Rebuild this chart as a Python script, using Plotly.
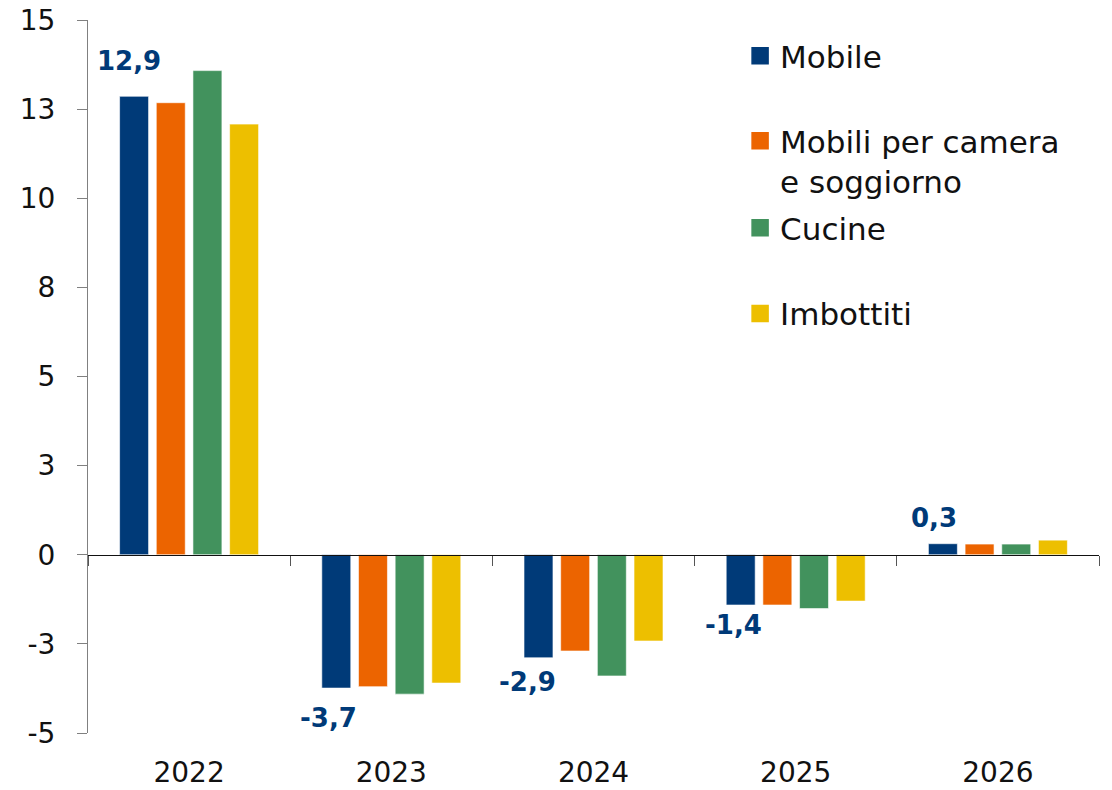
import plotly.graph_objects as go

# ---------------- data ----------------
years = ["2022", "2023", "2024", "2025", "2026"]
series_names = ["Mobile", "Mobili per camera<br>e soggiorno", "Cucine", "Imbottiti"]
mobile = [12.86, -3.74, -2.89, -1.41, 0.31]
mobili_camera = [12.68, -3.70, -2.70, -1.41, 0.30]
cucine = [13.58, -3.91, -3.40, -1.51, 0.30]
imbottiti = [12.08, -3.60, -2.42, -1.30, 0.41]
y_tick_values = [-5, -2.5, 0, 2.5, 5, 7.5, 10, 12.5, 15]
y_tick_labels = ["-5", "-3", "0", "3", "5", "8", "10", "13", "15"]

# ---------------- style ----------------
colors = ["#003A78", "#EC6400", "#42925D", "#EDBF00"]
FONT = "DejaVu Sans"
BARGAP = 0.2745
BARGROUPGAP = 0.21
label_yshift = [35, -30, -24, -20, 26]
label_xshift = [-5, -8, -11, -7, -9]
legend_pos = [(0.645, 0.9495), (0.645, 0.802), (0.645, 0.708), (0.645, 0.588)]

all_series = [mobile, mobili_camera, cucine, imbottiti]

fig = go.Figure()
for i, (name, vals, col) in enumerate(zip(series_names, all_series, colors)):
    fig.add_trace(go.Bar(
        x=years, y=vals, name=name, showlegend=False,
        marker=dict(color=col, line=dict(color="rgba(255,255,255,0.6)", width=1)),
        hoverinfo="skip",
    ))
# legend entries (square symbols), one legend each so spacing can follow the reference
for i, (name, col) in enumerate(zip(series_names, colors)):
    leg = "legend" if i == 0 else f"legend{i+1}"
    fig.add_trace(go.Scatter(
        x=[None], y=[None], mode="markers", name=name,
        marker=dict(symbol="square", size=16, color=col, line=dict(color=col, width=1.5)),
        legend=leg, showlegend=True,
    ))

# invisible trace on the zero-line axis
fig.add_trace(go.Scatter(x=[None], y=[None], xaxis="x2", showlegend=False, hoverinfo="skip"))

# data labels for "Mobile"
slot = (1 - BARGAP) / 4
annotations = []
for i, v in enumerate(mobile):
    annotations.append(dict(
        xref="x2", yref="y", x=i - 1.5 * slot, y=v,
        text=f"{v:.1f}".replace(".", ","), showarrow=False,
        xshift=label_xshift[i], yshift=label_yshift[i],
        font=dict(family=FONT, size=26, color=colors[0], weight="bold"),
    ))

layout_legends = {}
for i, (lx, ly) in enumerate(legend_pos):
    key = "legend" if i == 0 else f"legend{i+1}"
    layout_legends[key] = dict(
        x=lx, y=ly, xanchor="left", yanchor="middle", xref="paper", yref="paper",
        bgcolor="rgba(0,0,0,0)", valign="top",
        font=dict(family=FONT, size=31, color="#111111"),
        itemclick=False, itemdoubleclick=False,
    )

fig.update_layout(
    width=1112, height=790,
    margin=dict(l=88, r=13, t=20, b=57, autoexpand=False),
    paper_bgcolor="white", plot_bgcolor="white",
    barmode="group", bargap=BARGAP, bargroupgap=BARGROUPGAP,
    font=dict(family=FONT, color="#111111"),
    annotations=annotations,
    hovermode=False,
    xaxis=dict(
        type="category", showline=False, showgrid=False, zeroline=False,
        ticks="", tickfont=dict(family=FONT, size=28, color="#111111"),
        ticklabelstandoff=20, automargin=False, ticklabeloverflow="allow",
    ),
    xaxis2=dict(
        overlaying="x", anchor="free", position=0.25, side="bottom",
        range=[-0.5, 4.5], showgrid=False, zeroline=False,
        showline=True, linecolor="#111111", linewidth=1.2,
        ticks="outside", ticklen=10, tickwidth=1.2, tickcolor="#555555",
        tickvals=[-0.5, 0.5, 1.5, 2.5, 3.5, 4.5], showticklabels=False,
        automargin=False,
    ),
    yaxis=dict(
        range=[-5, 15], tickvals=y_tick_values, ticktext=y_tick_labels,
        showgrid=False, zeroline=False, showline=True, linecolor="#808080", linewidth=1.2,
        ticks="outside", ticklen=10, tickwidth=1.2, tickcolor="#808080",
        tickfont=dict(family=FONT, size=28, color="#111111"),
        ticklabelstandoff=16, automargin=False, ticklabeloverflow="allow",
    ),
    **layout_legends,
)

fig.write_html("out.html", config={"displayModeBar": False},
               post_script="document.body.style.margin='0';")
